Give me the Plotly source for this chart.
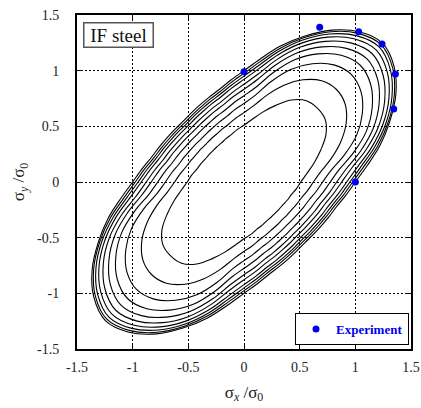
import math
import plotly.graph_objects as go

# ---- Yield-locus contours (inner -> outer) ----
# Each locus is symmetric about y = x and about the origin, so it is read along
# rays at angle phi measured from the diagonal (phi = 0 on y = x, phi = 90 on y = -x).
phi_deg = [0, 7.5, 15, 22.5, 30, 37.5, 45, 52.5, 60, 67.5, 75, 82.5, 90]
radius_1  = [0.935, 0.920, 0.850, 0.745, 0.650, 0.568, 0.510, 0.474, 0.440, 0.422, 0.405, 0.399, 0.396]
radius_2  = [1.175, 1.146, 1.060, 0.940, 0.810, 0.694, 0.623, 0.577, 0.537, 0.514, 0.495, 0.487, 0.482]
radius_3  = [1.365, 1.326, 1.227, 1.094, 0.932, 0.787, 0.706, 0.653, 0.608, 0.582, 0.562, 0.551, 0.546]
radius_4  = [1.480, 1.435, 1.329, 1.189, 1.018, 0.863, 0.775, 0.716, 0.667, 0.639, 0.617, 0.605, 0.599]
radius_5  = [1.563, 1.513, 1.401, 1.256, 1.086, 0.929, 0.833, 0.770, 0.717, 0.687, 0.664, 0.650, 0.644]
radius_6  = [1.629, 1.575, 1.459, 1.309, 1.138, 0.978, 0.878, 0.810, 0.755, 0.723, 0.699, 0.685, 0.678]
radius_7  = [1.678, 1.622, 1.503, 1.350, 1.184, 1.027, 0.922, 0.850, 0.793, 0.759, 0.734, 0.719, 0.712]
radius_8  = [1.716, 1.657, 1.535, 1.380, 1.215, 1.060, 0.951, 0.877, 0.818, 0.783, 0.758, 0.742, 0.734]
radius_9  = [1.743, 1.683, 1.559, 1.402, 1.242, 1.088, 0.976, 0.900, 0.839, 0.803, 0.777, 0.761, 0.753]
radius_10 = [1.761, 1.700, 1.575, 1.417, 1.264, 1.115, 1.000, 0.922, 0.860, 0.823, 0.797, 0.780, 0.772]
loci = [radius_1, radius_2, radius_3, radius_4, radius_5,
        radius_6, radius_7, radius_8, radius_9, radius_10]

# ---- Experimental points ----
exp_x = [0.00, 0.68, 1.03, 1.24, 1.36, 1.345, 1.00]
exp_y = [0.99, 1.39, 1.35, 1.24, 0.97, 0.655, 0.00]

fig = go.Figure()

for radii in loci:
    # half locus from theta=-45 deg (on y=-x) through theta=45 (y=x) to theta=135
    rays = [(45 - p, r) for p, r in zip(phi_deg, radii)]          # right sector
    rays += [(45 + p, r) for p, r in zip(phi_deg, radii)][1:]     # mirrored about y = x
    rays.sort()
    half = [(r * math.cos(math.radians(t)), r * math.sin(math.radians(t))) for t, r in rays]
    full = half[:-1] + [(-px, -py) for px, py in half[:-1]] + [half[0]]
    fig.add_trace(go.Scatter(
        x=[p[0] for p in full], y=[p[1] for p in full],
        mode="lines", line=dict(color="black", width=1.1, shape="spline", smoothing=1.0),
        showlegend=False, hoverinfo="skip"))

fig.add_trace(go.Scatter(
    x=exp_x, y=exp_y, mode="markers", name="<b>Experiment</b>",
    marker=dict(color="#0000ee", size=7), showlegend=True))

tick_vals = [-1.5, -1, -0.5, 0, 0.5, 1, 1.5]
tick_text = ["-1.5", "-1", "-0.5", "0", "0.5", "1", "1.5"]
serif = "Liberation Serif, Times New Roman, serif"

axis_common = dict(
    range=[-1.5, 1.5], tickvals=tick_vals, ticktext=tick_text, automargin=False,
    showgrid=True, gridcolor="black", gridwidth=1, griddash="2px,2px",
    zeroline=False, showline=True, linecolor="black", linewidth=2, mirror="ticks",
    ticks="inside", ticklen=5, tickwidth=1, tickcolor="black",
    tickfont=dict(family=serif, size=14, color="#222"),
)

fig.update_layout(
    width=421, height=408,
    margin=dict(l=77, r=10, t=15, b=59),
    plot_bgcolor="white", paper_bgcolor="white",
    font=dict(family=serif, color="#222"),
    xaxis=dict(**axis_common, ticklabelstandoff=4,
               title=dict(text="σ<sub><i>x</i></sub> /σ<sub>0</sub>",
                          font=dict(family=serif, size=17, color="#222"), standoff=12)),
    yaxis=dict(**axis_common, ticklabelstandoff=13,
               title=dict(text="σ<sub><i>y</i></sub> /σ<sub>0</sub>",
                          font=dict(family=serif, size=17, color="#222"), standoff=8)),
    legend=dict(x=0.994, y=0.012, xanchor="right", yanchor="bottom",
                bgcolor="white", bordercolor="black", borderwidth=1,
                font=dict(family=serif, size=13, color="#0000ee")),
    annotations=[dict(
        text="&nbsp;IF steel&nbsp;", xref="paper", yref="paper", x=0.017, y=0.98,
        xanchor="left", yanchor="top", showarrow=False,
        font=dict(family=serif, size=19, color="#111"),
        bordercolor="#555", borderwidth=1.5, borderpad=1, bgcolor="white")],
)

fig.write_html("out.html")
